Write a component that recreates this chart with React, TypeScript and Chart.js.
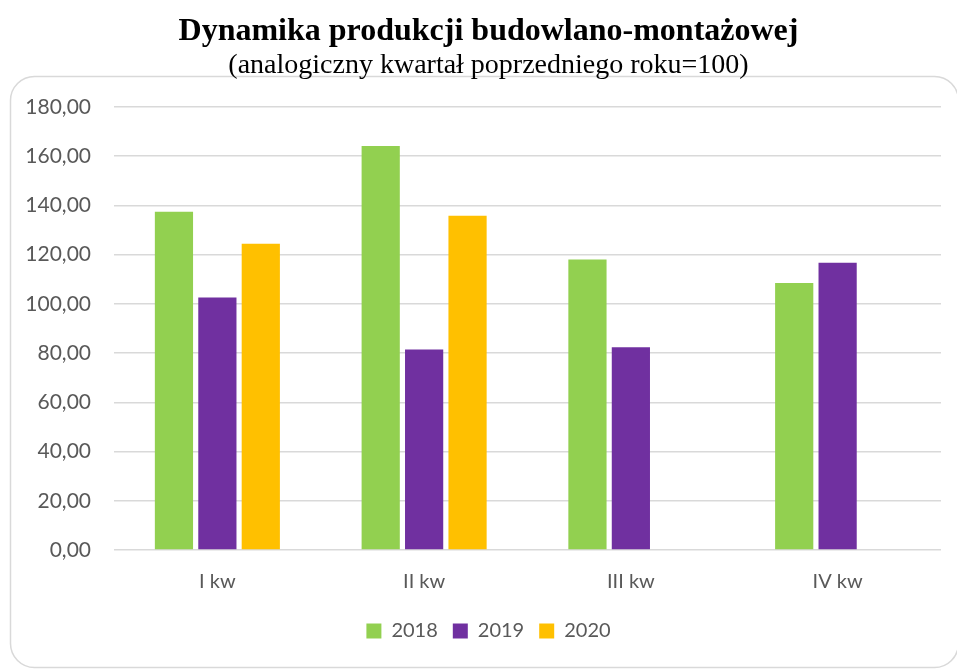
import React, { useEffect, useRef } from "react";
import { Chart, registerables } from "chart.js";

Chart.register(...registerables);

const categories = ["I kw", "II kw", "III kw", "IV kw"];
const series2018 = [137.4, 164.2, 118.0, 108.5];
const series2019 = [102.6, 81.5, 82.4, 116.7];
const series2020: (number | null)[] = [124.4, 135.8, null, null];
const seriesLabels = ["2018", "2019", "2020"];
const titleText = "Dynamika produkcji budowlano-montażowej";
const subtitleText = "(analogiczny kwartał poprzedniego roku=100)";

const framePlugin = {
  id: "frame",
  afterLayout(chart: any) {
    // let the y-axis labels extend into the left margin without being clipped
    if (chart.scales.y) chart.scales.y.left = 0;
  },
  beforeDraw(chart: any) {
    const ctx = chart.ctx;
    ctx.save();
    ctx.strokeStyle = "#d9d9d9";
    ctx.lineWidth = 1.5;
    ctx.beginPath();
    ctx.roundRect(10.5, 76.5, 948, 591, 24);
    ctx.stroke();
    ctx.restore();
  },
};

export default function App() {
  const ref = useRef<HTMLCanvasElement | null>(null);
  useEffect(() => {
    document.body.style.margin = "0";
    const canvas = ref.current!;
    const chart = new Chart(canvas, {
      type: "bar",
      data: {
        labels: categories,
        datasets: [
          { label: seriesLabels[0], data: series2018, backgroundColor: "#92D050" },
          { label: seriesLabels[1], data: series2019, backgroundColor: "#7030A0" },
          { label: seriesLabels[2], data: series2020, backgroundColor: "#FFC000" },
        ],
      },
      options: {
        responsive: false,
        animation: false,
        devicePixelRatio: 1,
        layout: { padding: { left: 36, right: 16, top: 0, bottom: 18 } },
        datasets: { bar: { categoryPercentage: 0.63, barPercentage: 0.88 } },
        plugins: {
          title: {
            display: true,
            text: titleText,
            color: "#000",
            font: { family: "Liberation Serif", size: 32, weight: "bold" },
            padding: { top: 13, bottom: 0 },
          },
          subtitle: {
            display: true,
            text: subtitleText,
            color: "#000",
            font: { family: "Liberation Serif", size: 28, weight: "normal" },
            padding: { top: -3, bottom: 25 },
          },
          legend: {
            position: "bottom",
            labels: {
              boxWidth: 15,
              boxHeight: 15,
              color: "#595959",
              font: { family: "Lato", size: 20 },
              padding: 15,
            },
          },
          tooltip: { enabled: false },
        },
        scales: {
          x: {
            grid: { display: false },
            border: { display: false },
            ticks: { color: "#595959", font: { family: "Lato", size: 20 }, padding: 12 },
          },
          y: {
            min: 0,
            max: 180,
            afterFit: (scale: any) => {
              scale.width = 78;
            },
            grid: { color: "#d9d9d9", lineWidth: 1.5, drawTicks: false },
            border: { display: false },
            ticks: {
              stepSize: 20,
              padding: 23,
              color: "#595959",
              font: { family: "Lato", size: 21 },
              callback: (v: any) => Number(v).toFixed(2).replace(".", ","),
            },
          },
        },
      },
      plugins: [framePlugin],
    });
    return () => chart.destroy();
  }, []);
  return <canvas ref={ref} width={957} height={669} style={{ display: "block" }} />;
}
